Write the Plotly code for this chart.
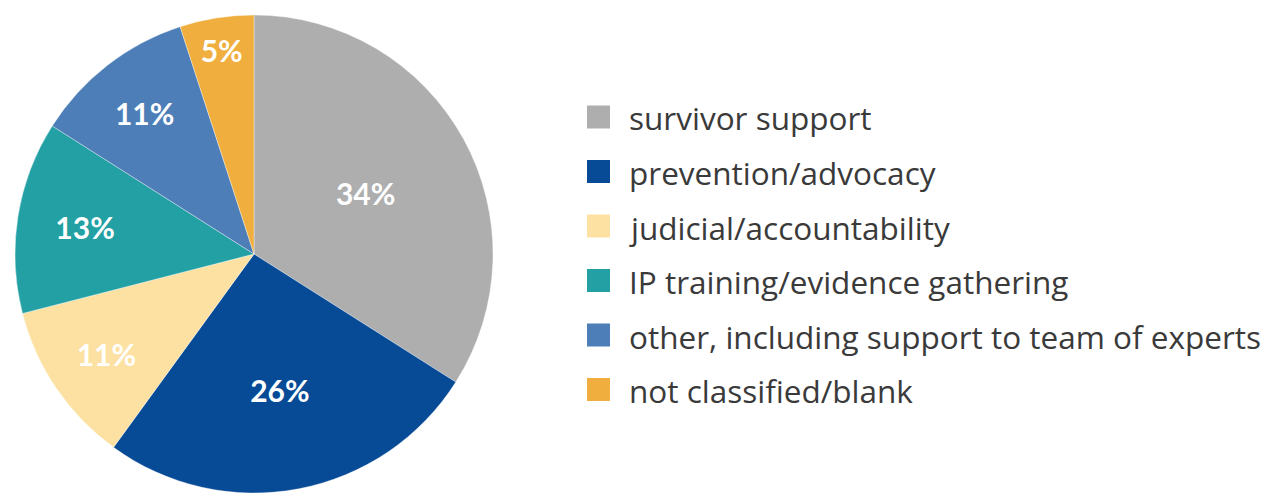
import plotly.graph_objects as go

categories = [
    "survivor support",
    "prevention/advocacy",
    "judicial/accountability",
    "IP training/evidence gathering",
    "other, including support to team of experts",
    "not classified/blank",
]
values = [34, 26, 11, 13, 11, 5]
colors = ["#AEAEAE", "#074A96", "#FCE1A2", "#22A0A4", "#4D7EB8", "#EFAE3D"]

W, H = 1270, 493

fig = go.Figure()
fig.add_trace(go.Pie(
    labels=categories,
    values=values,
    sort=False,
    direction="clockwise",
    rotation=0,
    marker=dict(colors=colors, line=dict(color="rgba(255,255,255,0.6)", width=0.6)),
    texttemplate="%{value}%",
    textposition="inside",
    insidetextorientation="horizontal",
    textfont=dict(family="Lato", size=30, color="white", weight="bold"),
    domain=dict(x=[14 / W, 494 / W], y=[0, 478 / H]),
    showlegend=False,
    hoverinfo="label+percent",
))

# custom legend (larger swatches than plotly's fixed 12px ones)
y0 = 117
step = 54.5
sq = 23
for i, (name, col) in enumerate(zip(categories, colors)):
    cy = y0 + i * step
    fig.add_shape(
        type="rect", xref="paper", yref="paper",
        x0=587 / W, x1=(587 + sq) / W,
        y0=1 - (cy + sq / 2) / H, y1=1 - (cy - sq / 2) / H,
        fillcolor=col, line=dict(width=0),
    )
    fig.add_annotation(
        xref="paper", yref="paper", x=627 / W, y=1 - (cy + 1) / H,
        xanchor="left", yanchor="middle", showarrow=False,
        text=name, font=dict(family="Open Sans", size=31.5, color="#3A3A3A"),
    )

fig.update_layout(
    width=W, height=H,
    margin=dict(l=0, r=0, t=0, b=0),
    paper_bgcolor="white", plot_bgcolor="white",
)

fig.write_html("out.html", config={"displayModeBar": False},
               post_script="document.body.style.margin='0';")
